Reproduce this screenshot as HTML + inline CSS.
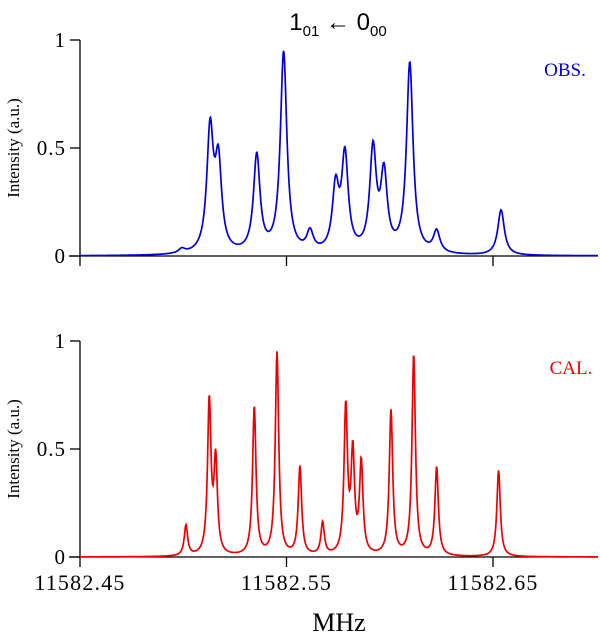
<!DOCTYPE html>
<html><head><meta charset="utf-8"><style>
html,body{margin:0;padding:0;background:#fff;width:600px;height:633px;overflow:hidden}
svg{display:block}
text{font-family:"Liberation Serif",serif;fill:#000}
</style></head><body>
<svg id="chart" width="600" height="633" viewBox="0 0 600 633">
<text x="338" y="30" text-anchor="middle" font-size="24" style="font-family:'Liberation Sans',sans-serif">1<tspan font-size="15" dy="6">01</tspan><tspan dy="-6"> ← 0</tspan><tspan font-size="15" dy="6">00</tspan></text>
<g id="top"></g>
<g id="bot"></g>
<text x="565" y="76" style="fill:#0000dd" font-size="19" text-anchor="middle">OBS.</text>
<text x="571" y="374" style="fill:#ee0000" font-size="19" text-anchor="middle">CAL.</text>
<text x="339" y="631" font-size="26" text-anchor="middle">MHz</text>
</svg>
<script>
const xTicks = [11582.45, 11582.55, 11582.65];
const xTickLabels = ["11582.45", "11582.55", "11582.65"];
const yTicks = [0, 0.5, 1];
const yTickLabels = ["0", "0.5", "1"];
const obsFreqs = [11582.4993, 11582.5130, 11582.5170, 11582.5356, 11582.5486, 11582.5614, 11582.5738, 11582.5783, 11582.5919, 11582.5972, 11582.6097, 11582.6227, 11582.6539];
const obsAmps  = [0.02, 0.56, 0.40, 0.45, 0.93, 0.09, 0.29, 0.44, 0.47, 0.35, 0.88, 0.10, 0.21];
const calFreqs = [11582.5013, 11582.5126, 11582.5157, 11582.5344, 11582.5454, 11582.5565, 11582.5675, 11582.5787, 11582.5821, 11582.5862, 11582.6006, 11582.6116, 11582.6227, 11582.6527];
const calAmps  = [0.14, 0.71, 0.43, 0.69, 0.94, 0.41, 0.15, 0.68, 0.46, 0.42, 0.67, 0.93, 0.41, 0.40];
const NS="http://www.w3.org/2000/svg";
function xs(f){return 80+(f-11582.45)*2065;}
function mk(tag,attrs,parent){const e=document.createElementNS(NS,tag);for(const k in attrs)e.setAttribute(k,attrs[k]);parent.appendChild(e);return e;}
function panel(g,y0,freqs,amps,hw,color,showX,name){
  const ys=v=>y0-v*216;
  const ya=mk('line',{x1:80,y1:y0-216,x2:80,y2:y0,stroke:'#000','stroke-width':1.3},g);
  
  
  const xa=mk('line',{x1:69,y1:y0,x2:598,y2:y0,stroke:'#000','stroke-width':1.3},g);
  
  
  yTicks.forEach((t,i)=>{
    const tk=mk('line',{x1:70,y1:ys(t),x2:80,y2:ys(t),stroke:'#000','stroke-width':1.3},g);
    
    
    const lb=mk('text',{x:66,y:ys(t)+7,'text-anchor':'end','font-size':21,'letter-spacing':1},g);
    lb.textContent=yTickLabels[i];
    
    
  });
  xTicks.forEach((t,i)=>{
    const tk=mk('line',{x1:xs(t),y1:y0,x2:xs(t),y2:y0+10,stroke:'#000','stroke-width':1.3},g);
    
    
    if(showX){
      const lb=mk('text',{x:xs(t),y:y0+33,'text-anchor':'middle','font-size':22,'letter-spacing':1.2},g);
      lb.textContent=xTickLabels[i];
      
      
    }
  });
  const yt=mk('text',{x:0,y:0,'text-anchor':'middle','font-size':17,transform:`translate(19,${y0-108}) rotate(-90)`},g);
  yt.textContent='Intensity (a.u.)';
  
  
  const pts=[];
  for(let px=80;px<=598;px+=0.5){
    const f=11582.45+(px-80)/2065;let s=0;
    for(let i=0;i<freqs.length;i++){const d=(f-freqs[i])/hw;s+=amps[i]/(1+d*d);}
    pts.push([px,s]);
  }
  const d='M'+pts.map(p=>p[0].toFixed(1)+','+ys(p[1]).toFixed(2)).join('L');
  const path=mk('path',{d:d,fill:'none',stroke:color,'stroke-width':1.7},g);
  
  
}
panel(document.getElementById('top'),256,obsFreqs,obsAmps,0.0019,'#0000dd',false,'obs');
panel(document.getElementById('bot'),557,calFreqs,calAmps,0.001,'#ee0000',true,'cal');
</script>
</body></html>
